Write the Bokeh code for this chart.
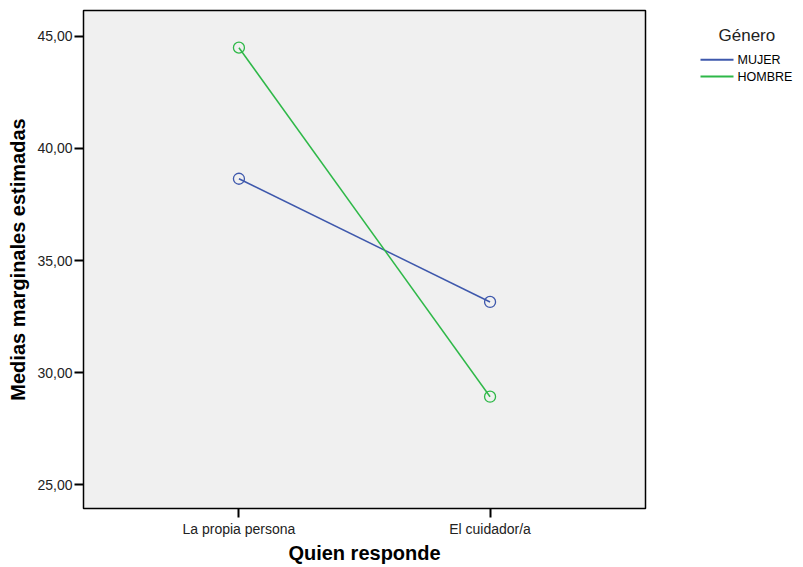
from bokeh.plotting import figure
from bokeh.layouts import row
from bokeh.models import FixedTicker, Range1d
from bokeh.core.properties import value
from bokeh.embed import file_html
from bokeh.resources import INLINE

categories = ["La propia persona", "El cuidador/a"]
series_names = ["MUJER", "HOMBRE"]
mujer = [38.65, 33.15]
hombre = [44.5, 28.92]
y_ticks = [25, 30, 35, 40, 45]
y_tick_labels = ["25,00", "30,00", "35,00", "40,00", "45,00"]
legend_title = "Género"

FONT = "Liberation Sans"
BLUE = "#3E58AC"
GREEN = "#2EB848"
colors = [BLUE, GREEN]

p = figure(frame_width=562, frame_height=498, output_backend="svg", toolbar_location=None,
           x_range=Range1d(-0.619, 1.619), y_range=Range1d(23.93, 46.16),
           min_border_left=83, min_border_right=10, min_border_top=10, min_border_bottom=48)
p.background_fill_color = "#F0F0F0"
p.border_fill_color = "white"
p.outline_line_color = "black"
p.outline_line_width = 1.5
p.grid.visible = False

xs = list(range(len(categories)))
for vals, col in zip([mujer, hombre], colors):
    p.line(xs, vals, line_color=col, line_width=1.5)
    p.scatter(xs, vals, marker="circle", size=11, fill_color=None, line_color=col, line_width=1.3)

for ax in (p.xaxis, p.yaxis):
    ax.axis_line_color = None
    ax.major_tick_line_color = "black"
    ax.major_tick_line_width = 2
    ax.major_tick_out = 9
    ax.major_tick_in = 0
    ax.minor_tick_line_color = None
    ax.major_label_text_font = FONT
    ax.major_label_text_font_size = "14px"
    ax.major_label_text_color = "#222222"
    ax.axis_label_text_font = FONT
    ax.axis_label_text_font_style = "bold"
    ax.axis_label_text_color = "black"

p.yaxis.ticker = FixedTicker(ticks=y_ticks)
p.yaxis.major_label_overrides = {t: l for t, l in zip(y_ticks, y_tick_labels)}
p.yaxis.axis_label = "Medias marginales estimadas"
p.yaxis.axis_label_text_font_size = "20px"
p.yaxis.major_label_standoff = 2
p.yaxis.axis_label_standoff = 5

p.xaxis.ticker = FixedTicker(ticks=xs)
p.xaxis.major_label_overrides = {i: c for i, c in enumerate(categories)}
p.xaxis.axis_label = "Quien responde"
p.xaxis.axis_label_text_font_size = "20px"
p.xaxis.major_label_standoff = 3
p.xaxis.axis_label_standoff = 2

# legend panel (pixel-like coordinates, y from top)
H = 568
lg = figure(width=140, height=H, output_backend="svg", toolbar_location=None,
            x_range=Range1d(0, 140), y_range=Range1d(H, 0),
            min_border=0, outline_line_color=None)
lg.axis.visible = False
lg.grid.visible = False
lg.background_fill_color = "white"
lg.border_fill_color = "white"

item_y = [56, 75]
lg.segment(x0=[45, 45], y0=item_y, x1=[78, 78], y1=item_y, line_color=colors, line_width=2)
lg.text(x=[82, 82], y=item_y, text=series_names, text_font=value(FONT), text_font_size="12.5px",
        text_color="black", text_baseline="middle", text_align="left")
lg.text(x=[63], y=[28], text=[legend_title], text_font=value(FONT), text_font_size="17px",
        text_color="#222222", text_baseline="middle", text_align="left")

layout = row(p, lg)
open("out.html", "w").write(file_html(layout, INLINE))
